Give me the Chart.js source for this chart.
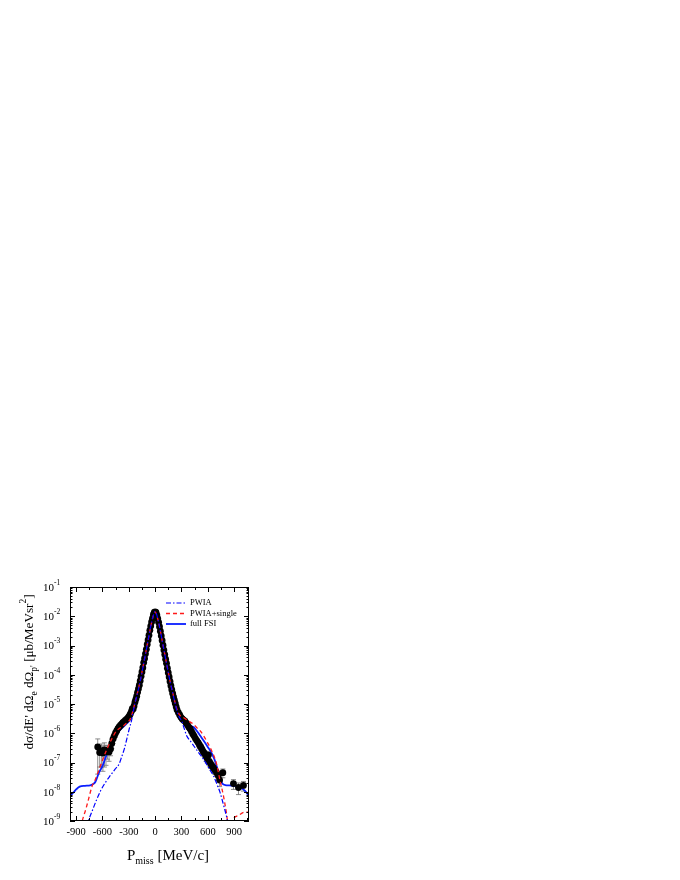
<!DOCTYPE html>
<html>
<head>
<meta charset="utf-8">
<script src="https://cdn.jsdelivr.net/npm/chart.js@4.4.1/dist/chart.umd.min.js"></script>
<style>
  html, body { margin: 0; padding: 0; background: #fff; }
  #wrap { width: 680px; height: 880px; position: relative; }
</style>
</head>
<body>
<div id="wrap"><canvas id="chart"></canvas></div>
<script>
// missing momentum [MeV/c] and cross sections [ub/MeV sr^2]
var pwiaP = [-780,-760,-710,-665,-620,-570,-510,-456,-410,-380,-350,-323,-295,-266,-250,-230,-200,-170,-140,-110,
  -80,-50,-25,0,25,50,80,110,140,170,200,230,250,275,304,330,361,400,456,500,551,610,665,705,741,780,817,840];
var pwiaV = [6e-10,1e-9,2.5e-9,5.5e-9,1.1e-8,2e-8,3.6e-8,5.9e-8,9e-8,1.6e-7,3e-7,6.3e-7,1.4e-6,3e-6,5.5e-6,1.05e-5,2.4e-5,6e-5,1.7e-4,5e-4,
  1.5e-3,4.5e-3,9.5e-3,1.45e-2,9.5e-3,4.5e-3,1.5e-3,5e-4,1.7e-4,6e-5,2.4e-5,1e-5,5.5e-6,3.6e-6,2.6e-6,1.5e-6,8e-7,5.5e-7,3.2e-7,2.1e-7,
  1.3e-7,6.6e-8,3.5e-8,1.8e-8,9.3e-9,3.5e-9,1.3e-9,6e-10];

var singleP = [-850,-820,-790,-760,-720,-680,-645,-610,-550,-495,-440,-400,-360,-320,-285,-265,-250,-230,-200,-170,
  -140,-110,-80,-50,-25,0,25,50,80,110,140,170,200,230,255,280,320,360,400,440,
  480,520,560,600,640,670,700,740,780,815,840,860,880,950,1020,1070];
var singleV = [6e-10,1.3e-9,2.5e-9,5.4e-9,1.5e-8,2.7e-8,5.1e-8,1e-7,2.8e-7,6.3e-7,1.2e-6,1.5e-6,1.8e-6,2.3e-6,3e-6,4.3e-6,6.3e-6,1.1e-5,2.5e-5,6.2e-5,
  1.75e-4,5.1e-4,1.5e-3,4.4e-3,9.3e-3,1.42e-2,9.3e-3,4.4e-3,1.5e-3,5.1e-4,1.75e-4,6.2e-5,2.5e-5,1.05e-5,5.8e-6,4.2e-6,3.5e-6,2.9e-6,2.4e-6,2e-6,
  1.5e-6,1.15e-6,7.5e-7,4.6e-7,2.7e-7,1.7e-7,9e-8,2.4e-8,7e-9,1.7e-9,5e-10,5e-10,1e-9,1.55e-9,2e-9,2e-9];

var fsiP = [-970,-930,-900,-860,-800,-740,-710,-680,-640,-600,-560,-520,-480,-440,-400,-360,-320,-290,-270,-250,
  -230,-200,-170,-140,-110,-80,-50,-25,0,25,50,80,110,140,170,200,230,255,280,310,
  360,400,440,480,520,560,600,640,680,720,745,770,800,850,900,950,1000,1040,1070];
var fsiV = [7e-9,9.5e-9,1.2e-8,1.5e-8,1.6e-8,1.65e-8,1.8e-8,2.2e-8,4.5e-8,7.5e-8,1.6e-7,3.2e-7,6.2e-7,9.5e-7,1.3e-6,1.7e-6,2.2e-6,2.8e-6,4e-6,6.5e-6,
  1.1e-5,2.4e-5,6e-5,1.7e-4,5e-4,1.5e-3,4.5e-3,9.5e-3,1.45e-2,9.5e-3,4.5e-3,1.5e-3,5e-4,1.7e-4,6e-5,2.4e-5,1e-5,5.5e-6,3.8e-6,2.9e-6,
  2.3e-6,1.8e-6,1.6e-6,1.15e-6,7.8e-7,5.2e-7,3.4e-7,2.2e-7,1.2e-7,4.8e-8,2.6e-8,1.85e-8,1.7e-8,1.65e-8,1.6e-8,1.45e-8,1.25e-8,9.5e-9,7e-9];

// measured points
var dataP = [-654,-632,-612,-595,-578,-560,-543,-525,-508,-494,-480,-466,-452,-438,-424,-410,-396,-382,-368,-354,-340,-326,-312,-298,-284,-270,-260,
  -250,-240,-230,-220,-210,-200,-190,-180,-170,-160,-150,-140,-130,-120,-110,-100,-90,-80,-70,-60,-50,-40,-30,-20,-10,
  0,10,20,30,40,50,60,70,80,90,100,110,120,130,140,150,160,170,180,190,200,210,220,230,240,250,
  265,280,295,310,325,340,355,370,385,400,415,430,445,460,475,490,505,520,535,550,565,580,595,608,620,635,650,665,680,700,720,735,772,893,950,1007];
var dataV = [3.4e-7,2.2e-7,2.5e-7,2.1e-7,2.7e-7,2.3e-7,2.6e-7,2.3e-7,2.9e-7,4.5e-7,6.3e-7,8e-7,1e-6,1.2e-6,1.45e-6,1.65e-6,1.85e-6,2.05e-6,2.3e-6,2.5e-6,2.75e-6,3e-6,3.3e-6,3.8e-6,4.5e-6,5.6e-6,7e-6,
  6.8e-6,8.6e-6,1.15e-5,1.45e-5,1.85e-5,2.5e-5,3.3e-5,4.4e-5,6.2e-5,8.8e-5,1.25e-4,1.75e-4,2.6e-4,3.6e-4,5.2e-4,7.4e-4,1.08e-3,1.55e-3,2.25e-3,3.3e-3,4.6e-3,6.4e-3,8.5e-3,1.13e-2,1.36e-2,
  1.42e-2,1.35e-2,1.1e-2,8.2e-3,6.2e-3,4.4e-3,3.1e-3,2.15e-3,1.48e-3,1.02e-3,7e-4,4.9e-4,3.4e-4,2.45e-4,1.68e-4,1.18e-4,8.4e-5,5.9e-5,4.2e-5,3.1e-5,2.3e-5,1.75e-5,1.35e-5,1.05e-5,8e-6,6.3e-6,
  5.1e-6,4.2e-6,3.5e-6,3.1e-6,2.8e-6,2.6e-6,2.2e-6,1.9e-6,1.6e-6,1.4e-6,1.15e-6,9.5e-7,8e-7,6.6e-7,5.6e-7,4.8e-7,4e-7,3.4e-7,2.8e-7,2.3e-7,2e-7,1.6e-7,1.35e-7,1.8e-7,1.05e-7,8.8e-8,7.5e-8,6.5e-8,5.5e-8,4.5e-8,3.5e-8,2.5e-8,4.5e-8,1.9e-8,1.4e-8,1.65e-8];
var dataErr = [3e-7,1.5e-7,1.8e-7,1.6e-7,2e-7,1.5e-7,1.3e-7,1.2e-7,1.2e-7,1.5e-7,1.8e-7,2e-7,2.5e-7,2.5e-7,3e-7,3e-7,3e-7,3e-7,3e-7,3e-7,3e-7,3e-7,3e-7,3e-7,4e-7,4e-7,5e-7,
  4e-7,5e-7,6e-7,7e-7,9e-7,1.2e-6,1.5e-6,2e-6,2.8e-6,4e-6,5e-6,7e-6,1e-5,1.4e-5,2e-5,3e-5,4e-5,6e-5,9e-5,1.3e-4,1.8e-4,2.5e-4,3.3e-4,4.5e-4,5.4e-4,
  5.6e-4,5.4e-4,4.4e-4,3.3e-4,2.5e-4,1.8e-4,1.2e-4,9e-5,6e-5,4e-5,3e-5,2e-5,1.4e-5,1e-5,7e-6,5e-6,4e-6,2.8e-6,2e-6,1.5e-6,1.2e-6,9e-7,7e-7,6e-7,5e-7,4e-7,
  4e-7,3e-7,3e-7,3e-7,3e-7,3e-7,3e-7,3e-7,2.5e-7,2.5e-7,2e-7,2e-7,1.5e-7,1.5e-7,1.2e-7,1e-7,1e-7,8e-8,7e-8,6e-8,5e-8,5e-8,4e-8,6e-8,3e-8,2.5e-8,2e-8,2e-8,1.5e-8,1.2e-8,1e-8,1e-8,1.5e-8,7e-9,6e-9,6e-9];

var xTickStep = 150, xLabelStep = 300;
var yDecades = [-9,-8,-7,-6,-5,-4,-3,-2,-1];

var SERIF = '"Liberation Serif", "Times New Roman", "DejaVu Serif", serif';

function pts(xs, ys) {
  return xs.map(function (x, i) { return {x: x, y: ys[i]}; });
}

// draw a run of text pieces [str, size, shift] along the baseline
function richText(ctx, pieces, x, y, align) {
  var total = 0;
  pieces.forEach(function (p) { ctx.font = p[1] + 'px ' + SERIF; total += ctx.measureText(p[0]).width; });
  var cx = align === 'center' ? x - total / 2 : x;
  ctx.textAlign = 'left';
  ctx.textBaseline = 'alphabetic';
  pieces.forEach(function (p) {
    ctx.font = p[1] + 'px ' + SERIF;
    ctx.fillText(p[0], cx, y + p[2]);
    cx += ctx.measureText(p[0]).width;
  });
}

var framePlugin = {
  id: 'frame',
  beforeDatasetsDraw: function (chart) {
    // error bars
    var ctx = chart.ctx, xs = chart.scales.x, ys = chart.scales.y, a = chart.chartArea;
    ctx.save();
    ctx.beginPath();
    ctx.rect(a.left, a.top, a.right - a.left, a.bottom - a.top);
    ctx.clip();
    ctx.strokeStyle = '#707070';
    ctx.lineWidth = 0.8;
    dataP.forEach(function (p, i) {
      var lo = dataV[i] - dataErr[i], hi = dataV[i] + dataErr[i];
      if (lo <= ys.min) lo = ys.min;
      var px = xs.getPixelForValue(p);
      var y1 = ys.getPixelForValue(hi), y2 = ys.getPixelForValue(lo);
      if (y2 - y1 < 6) return;
      ctx.beginPath();
      ctx.moveTo(px, y1); ctx.lineTo(px, y2);
      ctx.moveTo(px - 2.5, y1); ctx.lineTo(px + 2.5, y1);
      ctx.moveTo(px - 2.5, y2); ctx.lineTo(px + 2.5, y2);
      ctx.stroke();
    });
    ctx.restore();
  },
  afterDraw: function (chart) {
    var ctx = chart.ctx, xs = chart.scales.x, ys = chart.scales.y, a = chart.chartArea;
    ctx.save();
    ctx.strokeStyle = '#000';
    ctx.fillStyle = '#000';
    ctx.lineWidth = 1;
    ctx.strokeRect(a.left + 0.5, a.top + 0.5, a.right - a.left - 1, a.bottom - a.top - 1);

    // x tick marks inside, bottom and top
    ctx.beginPath();
    xs.ticks.forEach(function (t) {
      var px = Math.round(xs.getPixelForValue(t.value)) + 0.5;
      var len = t.value % xLabelStep === 0 ? 5 : 3;
      ctx.moveTo(px, a.bottom); ctx.lineTo(px, a.bottom - len);
      ctx.moveTo(px, a.top); ctx.lineTo(px, a.top + len);
    });
    // y tick marks inside, left and right
    yDecades.forEach(function (k) {
      for (var m = 1; m <= 9; m++) {
        var v = m * Math.pow(10, k);
        if (v < ys.min * 0.999 || v > ys.max * 1.001) continue;
        var py = Math.round(ys.getPixelForValue(v)) + 0.5;
        var len = m === 1 ? 5 : 2.5;
        ctx.moveTo(a.left, py); ctx.lineTo(a.left + len, py);
        ctx.moveTo(a.right, py); ctx.lineTo(a.right - len, py);
      }
    });
    ctx.stroke();

    // y tick labels 10^k
    yDecades.forEach(function (k) {
      var py = ys.getPixelForValue(Math.pow(10, k));
      ctx.font = '11px ' + SERIF;
      ctx.textAlign = 'right';
      ctx.textBaseline = 'middle';
      ctx.fillText('10', 54, py + 1);
      ctx.font = '7.5px ' + SERIF;
      ctx.textAlign = 'left';
      ctx.fillText('-' + Math.abs(k), 54, py - 4);
    });

    // x title
    richText(ctx, [['P', 15, 0], ['miss', 10, 4], [' [MeV/c]', 15, 0]], 168, 860, 'center');

    // y title, rotated
    ctx.save();
    ctx.translate(33, 672);
    ctx.rotate(-Math.PI / 2);
    richText(ctx, [['d\u03c3/dE\' d\u03a9', 13.2, 0], ['e', 9.5, 4], [' d\u03a9', 13.2, 0], ['p\'', 9.5, 4],
      [' [\u03bcb/MeVsr', 13.2, 0], ['2', 9.5, -7], [']', 13.2, 0]], 0, 0, 'center');
    ctx.restore();

    // legend
    var row = 0;
    chart.data.datasets.forEach(function (ds) {
      if (!ds.showLine) return;
      var y = 603 + row * 10.5;
      ctx.save();
      ctx.strokeStyle = ds.borderColor;
      ctx.lineWidth = ds.borderWidth;
      ctx.setLineDash(ds.borderDash || []);
      ctx.beginPath();
      ctx.moveTo(166, y); ctx.lineTo(186, y);
      ctx.stroke();
      ctx.restore();
      ctx.font = '8.5px ' + SERIF;
      ctx.textAlign = 'left';
      ctx.textBaseline = 'middle';
      ctx.fillText(ds.label, 190, y);
      row++;
    });
    ctx.restore();
  }
};

new Chart(document.getElementById('chart'), {
  type: 'scatter',
  data: {
    datasets: [
      { label: 'PWIA', data: pts(pwiaP, pwiaV), showLine: true, borderColor: '#0000ff', borderWidth: 1.2,
        borderDash: [5, 2, 1.5, 2], pointRadius: 0, cubicInterpolationMode: 'monotone', clip: 0, order: 1 },
      { label: 'PWIA+single', data: pts(singleP, singleV), showLine: true, borderColor: '#ff1a1a', borderWidth: 1.3,
        borderDash: [4, 3], pointRadius: 0, cubicInterpolationMode: 'monotone', clip: 0, order: 2 },
      { label: 'full FSI', data: pts(fsiP, fsiV), showLine: true, borderColor: '#0a1eff', borderWidth: 1.8,
        pointRadius: 0, cubicInterpolationMode: 'monotone', clip: 0, order: 4 },
      { label: 'data', data: pts(dataP, dataV), showLine: false, pointRadius: 3.4, pointBackgroundColor: '#000',
        pointBorderWidth: 0, order: 3 }
    ]
  },
  options: {
    responsive: true,
    maintainAspectRatio: false,
    animation: false,
    layout: { padding: { left: 0, top: 587, right: 431, bottom: 0 } },
    plugins: { legend: { display: false }, tooltip: { enabled: false } },
    scales: {
      x: {
        type: 'linear', min: -970, max: 1070,
        grid: { display: false, drawTicks: false },
        border: { display: false },
        ticks: {
          stepSize: xTickStep, includeBounds: false, autoSkip: false, maxRotation: 0, padding: 5,
          color: '#000', font: { family: SERIF, size: 10.5 },
          callback: function (v) { return v % xLabelStep === 0 ? String(v) : ''; }
        },
        afterFit: function (s) { s.height = 59; }
      },
      y: {
        type: 'logarithmic', min: 1e-9, max: 1e-1,
        grid: { display: false, drawTicks: false },
        border: { display: false },
        ticks: { display: false },
        afterFit: function (s) { s.width = 70; }
      }
    }
  },
  plugins: [framePlugin]
});
</script>
</body>
</html>
